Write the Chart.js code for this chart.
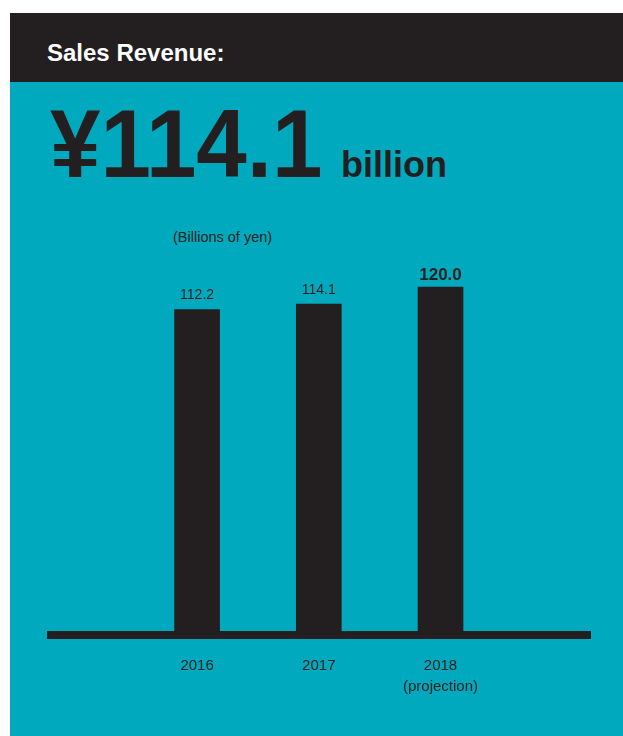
<!DOCTYPE html>
<html>
<head>
<meta charset="utf-8">
<script src="https://cdn.jsdelivr.net/npm/chart.js@4/dist/chart.umd.min.js"></script>
<style>
  html, body { margin: 0; padding: 0; background: #fff; }
  body { width: 623px; height: 736px; position: relative; overflow: hidden;
         font-family: "Liberation Sans", Arial, sans-serif; color: #231f20; }
  #panel { position: absolute; left: 10px; top: 13px; width: 613px; height: 723px; background: #00a9bd; }
  #head { position: absolute; left: 0; top: 0; width: 613px; height: 69px; background: #231f20; }
  .txt { position: absolute; white-space: nowrap; line-height: 1; }
  #title { left: 37px; top: 28px; font-size: 24px; font-weight: bold; color: #fff; }
  #big { left: 40px; top: 83px; font-size: 96px; font-weight: bold; transform: scaleX(0.945); transform-origin: 0 0; }
  #unit { left: 331px; top: 134px; font-size: 36px; font-weight: bold; }
  #note { left: 163px; top: 217px; font-size: 14.5px; }
  #chartBox { position: absolute; left: 0; top: 220px; width: 623px; height: 480px; }
</style>
</head>
<body>
<div id="panel">
  <div id="head"></div>
  <div class="txt" id="title">Sales Revenue:</div>
  <div class="txt" id="big">¥114.1</div>
  <div class="txt" id="unit">billion</div>
  <div class="txt" id="note">(Billions of yen)</div>
</div>
<div id="chartBox"><canvas id="sales"></canvas></div>
<script>
var years = [2016, 2017, 2018];
var revenue = [112.2, 114.1, 120.0];
var tickLabels = ['2016', '2017', ['2018', '(projection)']];
var valueLabels = ['112.2', '114.1', '120.0'];

var ink = '#231f20';

// writes the figure over each bar, the projected year in bold
var valuePlugin = {
    id: 'valueLabels',
    afterDatasetsDraw: function(chart) {
        var ctx = chart.ctx;
        var meta = chart.getDatasetMeta(0);
        ctx.save();
        ctx.fillStyle = ink;
        ctx.textAlign = 'center';
        ctx.textBaseline = 'middle';
        meta.data.forEach(function(bar, i) {
            var last = i === meta.data.length - 1;
            ctx.font = (last ? 'bold 17px' : '14px') + ' "Liberation Sans", Arial, sans-serif';
            ctx.fillText(valueLabels[i], bar.x, bar.y - (last ? 12 : 14));
        });
        ctx.restore();
    }
};

var el = document.getElementById('sales');
var chart = new Chart(el, {
    type: 'bar',
    data: {
        datasets: [{
            data: years.map(function(y, i) { return { x: y, y: revenue[i] }; }),
            backgroundColor: ink,
            borderWidth: 0,
            barThickness: 45
        }]
    },
    options: {
        responsive: true,
        maintainAspectRatio: false,
        animation: false,
        layout: { padding: { left: 51, right: 33, top: 9, bottom: 0 } },
        plugins: { legend: { display: false }, tooltip: { enabled: false } },
        scales: {
            x: {
                type: 'linear',
                offset: false,
                min: years[0] - 1.2,
                max: years[years.length - 1] + 1.228,
                grid: { display: false, drawTicks: false },
                border: { display: true, color: ink, width: 8 },
                afterBuildTicks: function(scale) {
                    scale.ticks = years.map(function(v) { return { value: v }; });
                },
                afterFit: function(scale) { scale.height = 65; },
                ticks: {
                    color: ink,
                    padding: 20,
                    maxRotation: 0,
                    font: { family: '"Liberation Sans", Arial, sans-serif', size: 15, lineHeight: 1.4 },
                    callback: function(v) { return tickLabels[years.indexOf(v)]; }
                }
            },
            y: {
                display: false,
                min: 0,
                max: 140
            }
        }
    },
    plugins: [valuePlugin]
});
</script>
</body>
</html>
